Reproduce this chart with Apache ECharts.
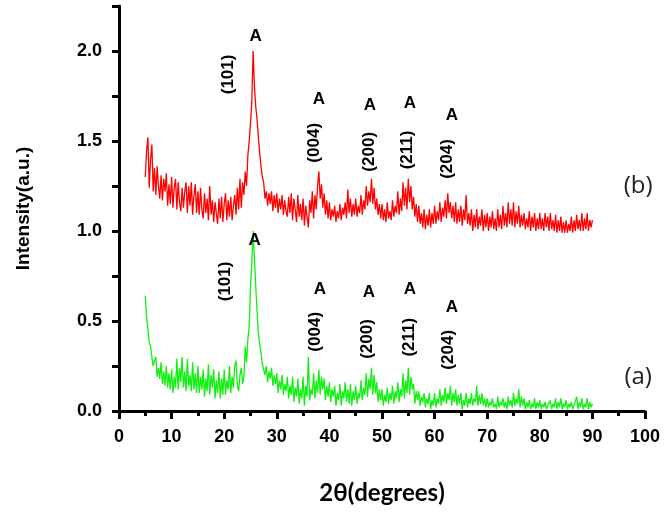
<!DOCTYPE html>
<html>
<head>
<meta charset="utf-8">
<script src="https://cdn.jsdelivr.net/npm/echarts@6/dist/echarts.min.js"></script>
<style>
  html, body { margin: 0; padding: 0; background: #fff; }
  #xrd { width: 669px; height: 513px; }
</style>
</head>
<body>
<div id="xrd"></div>
<script>
// 2θ sampling: 5° .. 90°, one reading every 0.25°
const angleStart = 5;
const angleStep = 0.25;

// sample (b), red trace (20 readings per 5° row)
const intensityB = [
  1.30, 1.45, 1.52, 1.24, 1.40, 1.48, 1.22, 1.35, 1.20, 1.36, 1.25, 1.18, 1.31, 1.17, 1.29, 1.22, 1.32, 1.14, 1.26, 1.15,
  1.30, 1.13, 1.24, 1.29, 1.12, 1.27, 1.16, 1.11, 1.24, 1.13, 1.22, 1.27, 1.10, 1.25, 1.14, 1.27, 1.09, 1.20, 1.26, 1.10,
  1.22, 1.09, 1.24, 1.12, 1.07, 1.21, 1.10, 1.18, 1.06, 1.25, 1.09, 1.17, 1.05, 1.16, 1.10, 1.04, 1.18, 1.07, 1.19, 1.05,
  1.15, 1.21, 1.06, 1.17, 1.08, 1.19, 1.06, 1.14, 1.20, 1.09, 1.24, 1.12, 1.29, 1.13, 1.27, 1.20, 1.33, 1.25, 1.42, 1.50,
  1.60, 1.72, 2.00, 1.80, 1.69, 1.62, 1.52, 1.43, 1.36, 1.30, 1.27, 1.18, 1.22, 1.14, 1.21, 1.15, 1.22, 1.11, 1.20, 1.13,
  1.21, 1.10, 1.18, 1.12, 1.20, 1.09, 1.17, 1.11, 1.08, 1.19, 1.10, 1.21, 1.06, 1.18, 1.12, 1.05, 1.20, 1.08, 1.15, 1.06,
  1.18, 1.03, 1.14, 1.08, 1.02, 1.17, 1.10, 1.22, 1.07, 1.20, 1.12, 1.25, 1.33, 1.18, 1.26, 1.13, 1.21, 1.09, 1.17, 1.07,
  1.16, 1.06, 1.12, 1.08, 1.14, 1.05, 1.11, 1.07, 1.15, 1.06, 1.13, 1.09, 1.16, 1.07, 1.23, 1.10, 1.18, 1.08, 1.15, 1.09,
  1.18, 1.08, 1.14, 1.10, 1.20, 1.09, 1.17, 1.12, 1.25, 1.14, 1.22, 1.16, 1.29, 1.15, 1.24, 1.12, 1.18, 1.09, 1.15, 1.07,
  1.15, 1.06, 1.12, 1.05, 1.16, 1.07, 1.11, 1.06, 1.17, 1.08, 1.14, 1.10, 1.22, 1.09, 1.18, 1.11, 1.27, 1.14, 1.24, 1.12,
  1.29, 1.16, 1.25, 1.12, 1.19, 1.08, 1.15, 1.05, 1.14, 1.04, 1.10, 1.02, 1.12, 1.01, 1.09, 1.03, 1.12, 1.02, 1.10, 1.04,
  1.14, 1.04, 1.11, 1.06, 1.16, 1.05, 1.13, 1.08, 1.17, 1.07, 1.21, 1.10, 1.16, 1.07, 1.14, 1.05, 1.16, 1.04, 1.12, 1.05,
  1.14, 1.03, 1.12, 1.06, 1.20, 1.04, 1.10, 1.03, 1.12, 1.00, 1.09, 1.02, 1.12, 1.01, 1.08, 1.03, 1.12, 1.00, 1.09, 1.02,
  1.10, 1.00, 1.08, 1.02, 1.11, 1.01, 1.07, 1.00, 1.12, 1.02, 1.09, 1.01, 1.14, 1.03, 1.10, 1.02, 1.16, 1.04, 1.12, 1.03,
  1.16, 1.02, 1.11, 1.04, 1.14, 1.02, 1.09, 1.03, 1.10, 1.01, 1.07, 1.02, 1.11, 1.00, 1.08, 1.02, 1.10, 1.00, 1.07, 1.01,
  1.10, 1.01, 1.07, 1.00, 1.10, 1.02, 1.08, 1.00, 1.10, 1.01, 1.06, 1.00, 1.09, 0.99, 1.06, 1.00, 1.08, 0.99, 1.05, 0.99,
  1.06, 0.99, 1.04, 1.00, 1.08, 0.99, 1.06, 1.00, 1.09, 1.01, 1.06, 1.00, 1.10, 1.00, 1.07, 1.01, 1.10, 1.00, 1.06, 1.02,
  1.06
];

// sample (a), green trace
const intensityA = [
  0.64, 0.52, 0.45, 0.38, 0.36, 0.30, 0.25, 0.28, 0.30, 0.19, 0.24, 0.18, 0.27, 0.15, 0.22, 0.14, 0.25, 0.13, 0.21, 0.12,
  0.23, 0.10, 0.19, 0.13, 0.29, 0.12, 0.24, 0.16, 0.30, 0.13, 0.22, 0.11, 0.29, 0.14, 0.20, 0.11, 0.27, 0.12, 0.21, 0.10,
  0.25, 0.10, 0.19, 0.12, 0.23, 0.08, 0.18, 0.11, 0.26, 0.09, 0.20, 0.13, 0.23, 0.07, 0.17, 0.10, 0.22, 0.07, 0.18, 0.09,
  0.23, 0.09, 0.17, 0.12, 0.25, 0.10, 0.19, 0.13, 0.25, 0.28, 0.14, 0.11, 0.20, 0.24, 0.15, 0.19, 0.36, 0.27, 0.40, 0.47,
  0.69, 0.82, 1.00, 0.85, 0.69, 0.55, 0.43, 0.37, 0.32, 0.26, 0.27, 0.20, 0.25, 0.16, 0.22, 0.18, 0.24, 0.14, 0.20, 0.15,
  0.21, 0.10, 0.17, 0.12, 0.20, 0.09, 0.15, 0.11, 0.19, 0.07, 0.14, 0.09, 0.19, 0.05, 0.13, 0.08, 0.18, 0.04, 0.12, 0.07,
  0.19, 0.03, 0.14, 0.08, 0.30, 0.06, 0.12, 0.09, 0.21, 0.07, 0.17, 0.10, 0.23, 0.09, 0.19, 0.12, 0.18, 0.06, 0.14, 0.08,
  0.16, 0.05, 0.12, 0.08, 0.14, 0.03, 0.10, 0.06, 0.15, 0.03, 0.11, 0.07, 0.16, 0.05, 0.12, 0.04, 0.15, 0.03, 0.11, 0.06,
  0.14, 0.04, 0.10, 0.07, 0.17, 0.06, 0.13, 0.09, 0.21, 0.08, 0.18, 0.12, 0.24, 0.09, 0.20, 0.10, 0.16, 0.05, 0.12, 0.06,
  0.12, 0.03, 0.09, 0.05, 0.13, 0.04, 0.10, 0.06, 0.14, 0.04, 0.11, 0.07, 0.16, 0.05, 0.12, 0.08, 0.21, 0.07, 0.17, 0.10,
  0.24, 0.09, 0.19, 0.12, 0.15, 0.04, 0.11, 0.06, 0.11, 0.03, 0.08, 0.05, 0.10, 0.02, 0.07, 0.04, 0.10, 0.01, 0.06, 0.03,
  0.10, 0.02, 0.07, 0.04, 0.12, 0.03, 0.09, 0.05, 0.13, 0.04, 0.10, 0.06, 0.14, 0.03, 0.10, 0.05, 0.12, 0.03, 0.09, 0.04,
  0.10, 0.01, 0.06, 0.03, 0.10, 0.02, 0.07, 0.04, 0.10, 0.03, 0.07, 0.05, 0.14, 0.03, 0.09, 0.04, 0.10, 0.03, 0.07, 0.02,
  0.07, 0.02, 0.05, 0.03, 0.07, 0.02, 0.04, 0.01, 0.08, 0.02, 0.05, 0.03, 0.07, 0.02, 0.05, 0.01, 0.08, 0.03, 0.06, 0.02,
  0.10, 0.03, 0.07, 0.04, 0.12, 0.02, 0.08, 0.03, 0.07, 0.01, 0.05, 0.02, 0.06, 0.01, 0.04, 0.02, 0.07, 0.01, 0.05, 0.02,
  0.06, 0.01, 0.04, 0.02, 0.05, 0.01, 0.03, 0.02, 0.06, 0.01, 0.04, 0.02, 0.07, 0.01, 0.05, 0.02, 0.07, 0.01, 0.04, 0.02,
  0.06, 0.01, 0.04, 0.02, 0.05, 0.01, 0.03, 0.02, 0.08, 0.01, 0.05, 0.02, 0.07, 0.01, 0.04, 0.02, 0.07, 0.01, 0.05, 0.02,
  0.04
];

// reflection labels: [2θ, intensity, text, rotated]
const peakLabelsB = [
  [26.0, 2.08, 'A', false], [20.7, 1.87, '(101)', true],
  [38.0, 1.73, 'A', false], [37.2, 1.49, '(004)', true],
  [47.7, 1.70, 'A', false], [47.5, 1.44, '(200)', true],
  [55.3, 1.71, 'A', false], [54.9, 1.45, '(211)', true],
  [63.3, 1.64, 'A', false], [62.5, 1.40, '(204)', true]
];
const peakLabelsA = [
  [25.8, 0.95, 'A', false], [20.3, 0.72, '(101)', true],
  [38.2, 0.675, 'A', false], [37.4, 0.44, '(004)', true],
  [47.5, 0.66, 'A', false], [47.3, 0.40, '(200)', true],
  [55.3, 0.675, 'A', false], [55.1, 0.41, '(211)', true],
  [63.3, 0.575, 'A', false], [62.7, 0.34, '(204)', true]
];
const sampleTags = [[98.7, 1.25, '(b)'], [98.7, 0.19, '(a)']];

function toPoints(vals) {
  return vals.map((v, i) => [angleStart + i * angleStep, v]);
}

function peakMarks(list, tag) {
  return list.map(p => ({
    coord: [p[0], p[1]],
    label: { formatter: p[2], rotate: p[3] ? 90 : 0 }
  })).concat([{
    coord: [tag[0], tag[1]],
    label: { formatter: tag[2], fontWeight: 'normal', fontFamily: 'Open Sans', fontSize: 24, color: '#222' }
  }]);
}

// keep a label only on every 'step'
function everyStep(step, digits) {
  return v => (Math.abs(v / step - Math.round(v / step)) < 1e-6 ? v.toFixed(digits) : '');
}

const chart = echarts.init(document.getElementById('xrd'));

const plotRect = { left: 119, right: 24, top: 6, bottom: 102 };

chart.setOption({
  animation: false,
  // grid 0 holds the traces, grid 1 (same place) only draws the frame axes
  grid: [Object.assign({}, plotRect), Object.assign({}, plotRect)],
  xAxis: [
    { type: 'value', gridIndex: 0, min: 0, max: 100, show: false },
    {
      type: 'value',
      gridIndex: 1,
      min: 0,
      max: 100,
      interval: 10,
      name: '2θ(degrees)',
      nameLocation: 'middle',
      nameGap: 70,
      nameTextStyle: { color: '#000', fontFamily: 'Lato', fontWeight: 'bold', fontSize: 24 },
      axisLine: { show: true, onZero: false, lineStyle: { color: '#000', width: 3 } },
      axisTick: { show: true, length: 8, lineStyle: { color: '#000', width: 3 } },
      minorTick: { show: true, splitNumber: 2, length: 5, lineStyle: { color: '#000', width: 3 } },
      axisLabel: { margin: 17, color: '#000', fontFamily: 'Liberation Sans', fontWeight: 'bold', fontSize: 18 },
      splitLine: { show: false }
    }
  ],
  yAxis: [
    { type: 'value', gridIndex: 0, min: 0, max: 2.25, show: false },
    {
      type: 'value',
      gridIndex: 1,
      min: 0,
      max: 2.25,
      interval: 0.25,
      name: 'Intensity(a.u.)',
      nameLocation: 'middle',
      nameRotate: 90,
      nameGap: 86,
      nameTextStyle: { color: '#000', fontFamily: 'Liberation Sans', fontWeight: 'bold', fontSize: 19 },
      axisLine: { show: true, onZero: false, lineStyle: { color: '#000', width: 3 } },
      axisTick: { show: true, length: 7, lineStyle: { color: '#000', width: 3 } },
      axisLabel: { margin: 17, color: '#000', fontFamily: 'Liberation Sans', fontWeight: 'bold', fontSize: 18, formatter: everyStep(0.5, 1) },
      splitLine: { show: false }
    }
  ],
  series: [
    {
      name: '(a)',
      type: 'line',
      xAxisIndex: 0,
      yAxisIndex: 0,
      data: toPoints(intensityA),
      symbol: 'none',
      lineStyle: { color: '#11f011', width: 1.3 },
      markPoint: {
        symbol: 'circle',
        symbolSize: 0,
        label: { show: true, position: 'inside', color: '#000', fontFamily: 'Liberation Sans', fontWeight: 'bold', fontSize: 17 },
        data: peakMarks(peakLabelsA, sampleTags[1])
      }
    },
    {
      name: '(b)',
      type: 'line',
      xAxisIndex: 0,
      yAxisIndex: 0,
      data: toPoints(intensityB),
      symbol: 'none',
      lineStyle: { color: '#ff0000', width: 1.3 },
      markPoint: {
        symbol: 'circle',
        symbolSize: 0,
        label: { show: true, position: 'inside', color: '#000', fontFamily: 'Liberation Sans', fontWeight: 'bold', fontSize: 17 },
        data: peakMarks(peakLabelsB, sampleTags[0])
      }
    }
  ]
});
</script>
</body>
</html>
